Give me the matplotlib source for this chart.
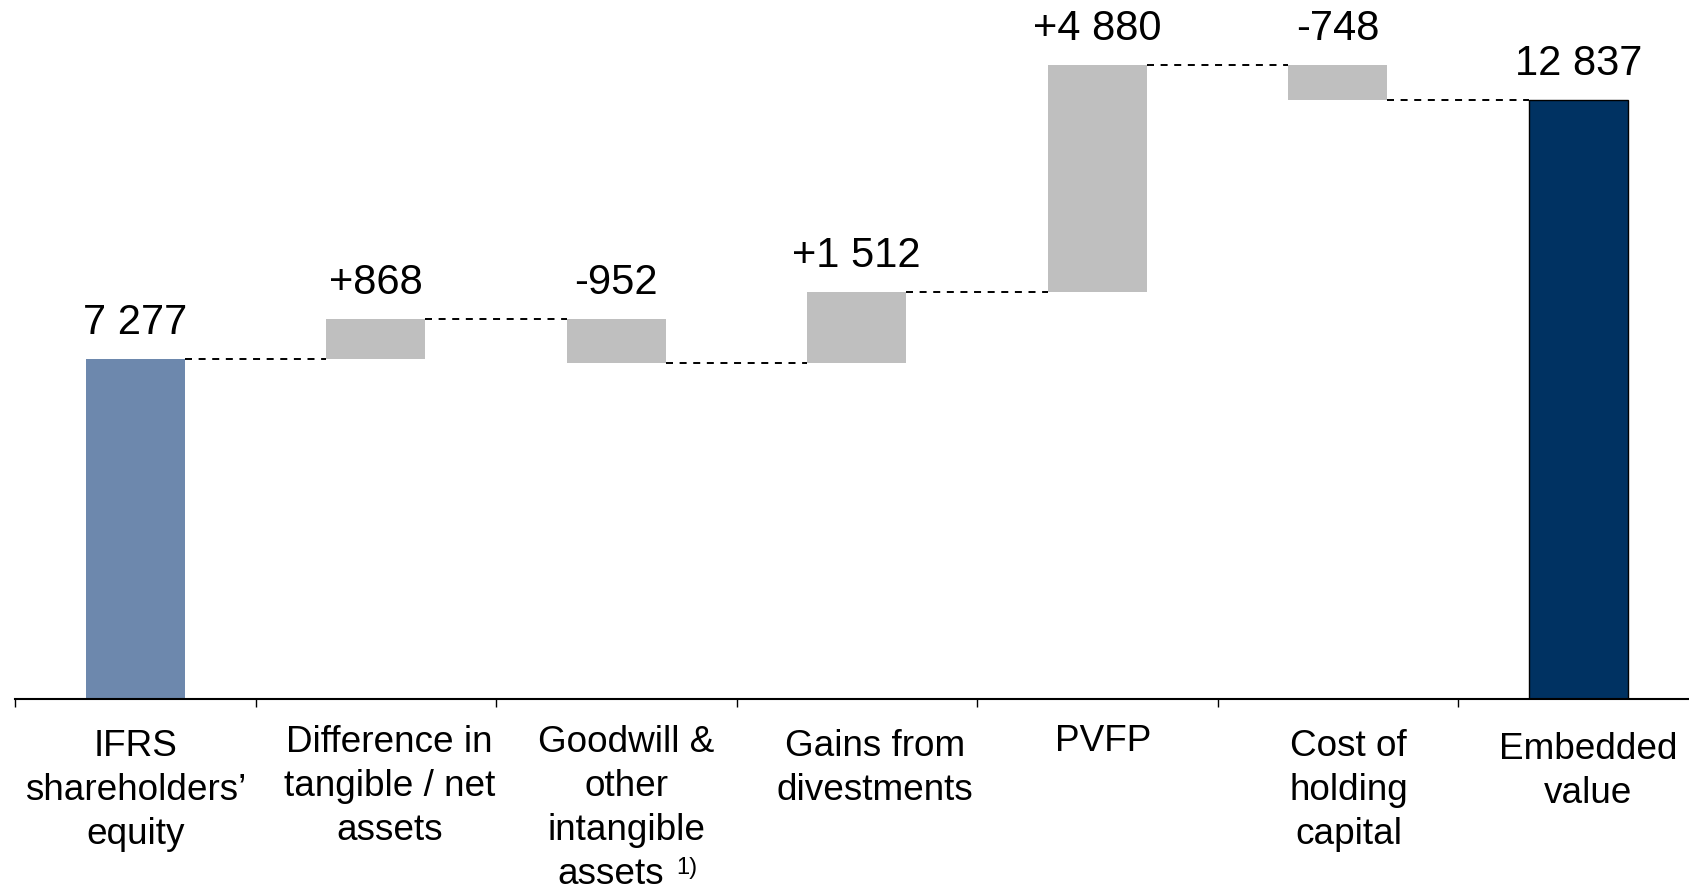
import matplotlib
matplotlib.use("Agg")
import matplotlib.pyplot as plt
import numpy as np
from matplotlib.transforms import blended_transform_factory

plt.rcParams["font.family"] = ["Liberation Sans", "DejaVu Sans"]

# Bridge from IFRS equity to embedded value
categories = [
    "IFRS\nshareholders’\nequity",
    "Difference in\ntangible / net\nassets",
    "Goodwill &\nother\nintangible\nassets",
    "Gains from\ndivestments",
    "PVFP",
    "Cost of\nholding\ncapital",
    "Embedded\nvalue",
]
start_value = 7277
changes = [868, -952, 1512, 4880, -748]
end_value = 12837
footnote_mark = "1)"
footnote_category = 2

COLOR_START = "#6D88AD"
COLOR_STEP = "#BFBFBF"
COLOR_END = "#003262"

# per-label nudges (pixels, positive = right / up) for the category captions
LABEL_DX = [0, 14, 10, 18, 6, 11, 10]
LABEL_DY = [0, 4, 4, 0, 5, 0, -3]

W, H = 1689, 892
fig = plt.figure(figsize=(W / 100, H / 100), dpi=100)
ax = fig.add_axes([15 / W, 193 / H, 7 * 240.5 / W, 699 / H])

n = len(categories)
bar_w = 0.41

# running totals
levels = [start_value]
for c in changes:
    levels.append(levels[-1] + c)


def fmt(v, signed=False):
    s = f"{abs(v):,}".replace(",", " ")
    if signed:
        s = ("+" if v >= 0 else "-") + s
    return s


tops = []
labels = []
# start bar
ax.bar(0, start_value, width=bar_w, color=COLOR_START, linewidth=0)
tops.append(start_value)
labels.append(fmt(start_value))
# step bars
for i, c in enumerate(changes):
    base = levels[i]
    ax.bar(i + 1, c, bottom=base, width=bar_w, color=COLOR_STEP, linewidth=0)
    tops.append(max(base, base + c))
    labels.append(fmt(c, signed=True))
# end bar
ax.bar(n - 1, end_value, width=bar_w, color=COLOR_END, edgecolor="black", linewidth=1.0)
tops.append(end_value)
labels.append(fmt(end_value))

# dashed connectors between consecutive bars
for i in range(n - 1):
    ax.plot([i + bar_w / 2, i + 1 - bar_w / 2], [levels[i], levels[i]],
            color="black", lw=1.4, linestyle=(0, (3.6, 3.4)), solid_capstyle="butt")

# value labels
for i, (t, lab) in enumerate(zip(tops, labels)):
    ax.annotate(lab, xy=(i, t), xytext=(0, 25), textcoords="offset pixels",
                ha="center", va="baseline", fontsize=30, color="black")

# axes styling
ax.set_xlim(-0.5, n - 0.5)
ax.set_ylim(0, 14968)
for s in ("left", "top", "right"):
    ax.spines[s].set_visible(False)
ax.spines["bottom"].set_linewidth(1.5)
ax.set_yticks([])
ax.set_xticks(np.arange(-0.5, n - 1, 1.0))
ax.set_xticklabels([])
ax.tick_params(axis="x", direction="out", length=6, width=1.0, color="black")

# category labels below the axis
trans = blended_transform_factory(ax.transData, ax.transAxes)
label_kw = dict(textcoords="offset pixels", ha="center", va="top",
                fontsize=26.6, linespacing=1.33, annotation_clip=False)
for i, cat in enumerate(categories):
    dy = -30 + LABEL_DY[i]
    if i == footnote_category:
        # last line is centred together with the footnote reference after it
        lines = cat.split("\n")
        head = ax.annotate("\n".join(lines[:-1]), xy=(i, 0), xycoords=trans,
                           xytext=(LABEL_DX[i], dy), **label_kw)
        tail = ax.annotate(lines[-1], xy=(0.5, 0), xycoords=head,
                           xytext=(-16, -9), **label_kw)
        ax.annotate(footnote_mark, xy=(1, 1), xycoords=tail, xytext=(13, 0),
                    textcoords="offset pixels", ha="left", va="top",
                    fontsize=17, annotation_clip=False)
    else:
        ax.annotate(cat, xy=(i, 0), xycoords=trans,
                    xytext=(LABEL_DX[i], dy), **label_kw)

fig.savefig("out.png", dpi=100)
